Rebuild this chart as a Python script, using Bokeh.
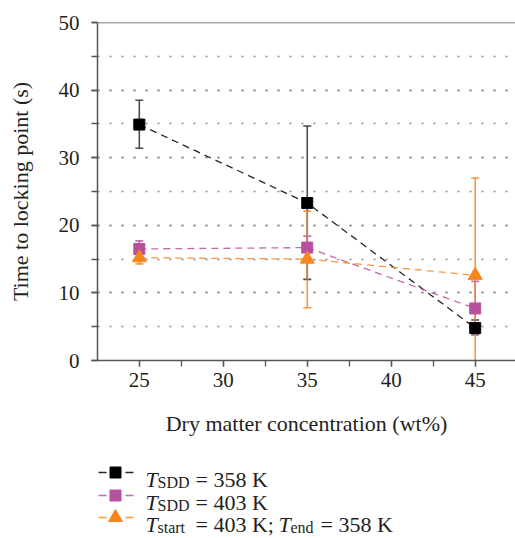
from bokeh.plotting import figure
from bokeh.models import Range1d, SingleIntervalTicker, Span, Label
from bokeh.layouts import column
from bokeh.embed import file_html
from bokeh.resources import INLINE

# ---- data ----
conc = [25, 35, 45]

t358 = [34.9, 23.3, 4.8]
t358_hi = [38.5, 34.7, 6.0]
t358_lo = [31.4, 12.0, 3.8]

t403 = [16.5, 16.7, 7.7]
t403_hi = [17.7, 18.4, 11.7]
t403_lo = [15.3, 15.0, 3.9]

tramp = [15.2, 15.0, 12.6]
tramp_hi = [16.2, 22.1, 27.0]
tramp_lo = [14.3, 7.8, -1.8]

x_label = "Dry matter concentration (wt%)"
y_label = "Time to locking point (s)"

# legend texts: (italic symbol, subscript, rest)
leg_rows = [
    [("T", "SDD", "= 358 K")],
    [("T", "SDD", "= 403 K")],
    [("T", "start", "= 403 K;"), ("T", "end", "= 358 K")],
]

BLACK = "#000000"
MAG = "#B8509E"
ORANGE = "#F7861F"
AXIS = "#555555"
TXT = "#231F20"
FONT = "Liberation Serif"

p = figure(width=515, height=445,
           x_range=Range1d(22.51, 47.4), y_range=Range1d(0, 50),
           output_backend="svg", toolbar_location=None,
           min_border_left=97, min_border_right=0,
           min_border_top=22, min_border_bottom=85)
p.outline_line_color = None
p.background_fill_color = "white"
p.border_fill_color = "white"

p.xaxis.ticker = SingleIntervalTicker(interval=5, num_minor_ticks=2)
p.yaxis.ticker = SingleIntervalTicker(interval=10, num_minor_ticks=2)

for ax in (p.xaxis, p.yaxis):
    ax.axis_line_color = AXIS
    ax.axis_line_width = 1.5
    ax.major_tick_line_color = AXIS
    ax.minor_tick_line_color = AXIS
    ax.major_tick_line_width = 1.3
    ax.minor_tick_line_width = 1.3
    ax.major_tick_in = 0
    ax.minor_tick_in = 0
    ax.major_tick_out = 6
    ax.minor_tick_out = 6
    ax.major_label_text_font = FONT
    ax.major_label_text_font_size = "21px"
    ax.major_label_text_color = TXT
    ax.axis_label_text_font = FONT
    ax.axis_label_text_font_style = "normal"
    ax.axis_label_text_font_size = "22px"
    ax.axis_label_text_color = TXT

p.xaxis.axis_label = x_label
p.yaxis.axis_label = y_label
p.xaxis.major_label_standoff = 6
p.xaxis.axis_label_standoff = 21
p.yaxis.major_label_standoff = 12
p.yaxis.axis_label_standoff = 23

p.xgrid.grid_line_color = None
p.ygrid.grid_line_color = "#8a8a8a"
p.ygrid.grid_line_dash = "2 10"
p.ygrid.grid_line_width = 1.3
p.ygrid.minor_grid_line_color = "#8a8a8a"
p.ygrid.minor_grid_line_dash = "2 10"
p.ygrid.minor_grid_line_width = 1.3

p.add_layout(Span(location=50, dimension="width", line_color=AXIS, line_width=1.5))

# error bars
def errbar(lo, hi, color, alpha):
    p.segment(x0=conc, y0=lo, x1=conc, y1=hi, line_color=color, line_width=1.6, line_alpha=alpha)
    p.scatter(x=conc + conc, y=lo + hi, marker="dash", size=8, line_color=color,
              line_width=1.6, line_alpha=alpha)

errbar(t358_lo, t358_hi, "#222222", 0.8)
errbar(t403_lo, t403_hi, MAG, 0.8)
errbar(tramp_lo, tramp_hi, ORANGE, 0.85)

# dashed connecting lines
p.line(conc, t358, line_color=BLACK, line_dash="7 5", line_width=1.3, line_alpha=0.85)
p.line(conc, t403, line_color=MAG, line_dash="7 5", line_width=1.3, line_alpha=0.85)
p.line(conc, tramp, line_color=ORANGE, line_dash="7 5", line_width=1.3, line_alpha=0.85)

# markers
p.scatter(conc, t358, marker="square", size=11, color=BLACK)
p.scatter(conc, t403, marker="square", size=11, color=MAG)
p.scatter(conc, tramp, marker="triangle", size=14, color=ORANGE)

# ---- legend (separate strip below; its frame spans page x 97..515) ----
lf = figure(width=515, height=93, x_range=Range1d(97, 515), y_range=Range1d(538, 445),
            output_backend="svg", toolbar_location=None,
            x_axis_type=None, y_axis_type=None,
            min_border_left=97, min_border_right=0, min_border_top=0, min_border_bottom=0)
lf.outline_line_color = None
lf.xgrid.grid_line_color = None
lf.ygrid.grid_line_color = None

base = [479, 502, 524]
cols = [BLACK, MAG, ORANGE]
markers = ["square", "square", "triangle"]
msize = [11, 11, 14]
for i in range(3):
    yc = base[i] - 7
    lf.line([98, 133], [yc, yc], line_color=cols[i], line_dash="8 19", line_width=1.5,
            line_alpha=0.85)
    lf.scatter([115], [yc], marker=markers[i], size=msize[i], color=cols[i])


def lab(x, y, txt, size, style="normal"):
    lf.add_layout(Label(x=x, y=y, text=txt, text_font=FONT, text_font_size=size,
                        text_font_style=style, text_color=TXT,
                        text_baseline="alphabetic", text_align="left"))


starts = [[145], [145], [145, 278]]
for i, row in enumerate(leg_rows):
    for j, (sym, sub, rest) in enumerate(row):
        x0 = starts[i][j]
        lab(x0, base[i], sym, "22px", "italic")
        lab(x0 + 12, base[i] + 3, sub, "16px")
        lab(x0 + 50 if j == 0 else x0 + 42, base[i], rest, "22px")

layout = column(p, lf, spacing=0)
open("out.html", "w").write(file_html(layout, INLINE))
